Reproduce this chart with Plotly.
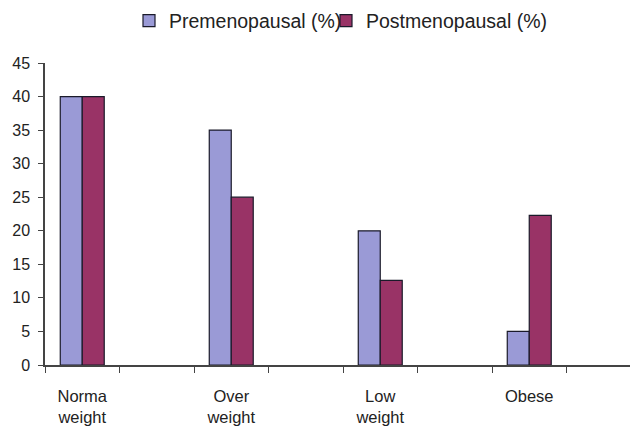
import plotly.graph_objects as go

# Category slots (blank slots act as spacing, as in the original chart)
slots = ["Norma<br>weight", " ", "Over<br>weight", "  ", "Low<br>weight", "   ", "Obese", "    "]
categories = ["Norma<br>weight", "Over<br>weight", "Low<br>weight", "Obese"]
premenopausal = [40, 35, 20, 5]
postmenopausal = [40, 25, 12.6, 22.3]
y_ticks = [0, 5, 10, 15, 20, 25, 30, 35, 40, 45]

W, H = 638, 432
OFF = 8  # page body offset of the rendered figure

fig = go.Figure()
fig.add_trace(go.Bar(
    x=categories, y=premenopausal, name="Premenopausal (%)",
    marker=dict(color="#9a9ad6", line=dict(color="#1a1a2a", width=1.2)),
    legend="legend",
))
fig.add_trace(go.Bar(
    x=categories, y=postmenopausal, name="Postmenopausal (%)",
    marker=dict(color="#993366", line=dict(color="#1a1a2a", width=1.2)),
    legend="legend2",
))

legend_common = dict(
    orientation="h", xref="container", yref="container", xanchor="left",
    yanchor="middle", y=1 - (21 - OFF) / H,
    font=dict(size=19.5, color="#222222"), itemwidth=30,
    bgcolor="rgba(0,0,0,0)",
)

fig.update_layout(
    width=W, height=H,
    margin=dict(l=45 - OFF, r=5, t=63 - OFF, b=67 + OFF, autoexpand=False),
    paper_bgcolor="white", plot_bgcolor="white",
    barmode="group", bargap=0.41, bargroupgap=0,
    font=dict(family="Liberation Sans, Arial, sans-serif", size=16, color="#222222"),
    showlegend=True,
    legend=dict(legend_common, x=(129 - OFF) / W),
    legend2=dict(legend_common, x=(326 - OFF) / W),
)
fig.update_xaxes(
    type="category", categoryorder="array", categoryarray=slots,
    range=[-0.5, 7.5], automargin=False,
    tickson="boundaries", ticks="outside", ticklen=6, tickcolor="#444444",
    ticklabelstandoff=15,
    showline=True, linecolor="#444444", linewidth=1.5,
    showgrid=False, zeroline=False,
    tickfont=dict(size=16.5, color="#222222"),
)
fig.update_yaxes(
    range=[0, 45], tickvals=y_ticks, ticks="outside", ticklen=5, automargin=False,
    ticklabelstandoff=5,
    tickcolor="#444444", showline=True, linecolor="#444444", linewidth=1.5,
    showgrid=False, zeroline=False,
    tickfont=dict(size=16, color="#222222"),
)

fig.write_html("out.html")
